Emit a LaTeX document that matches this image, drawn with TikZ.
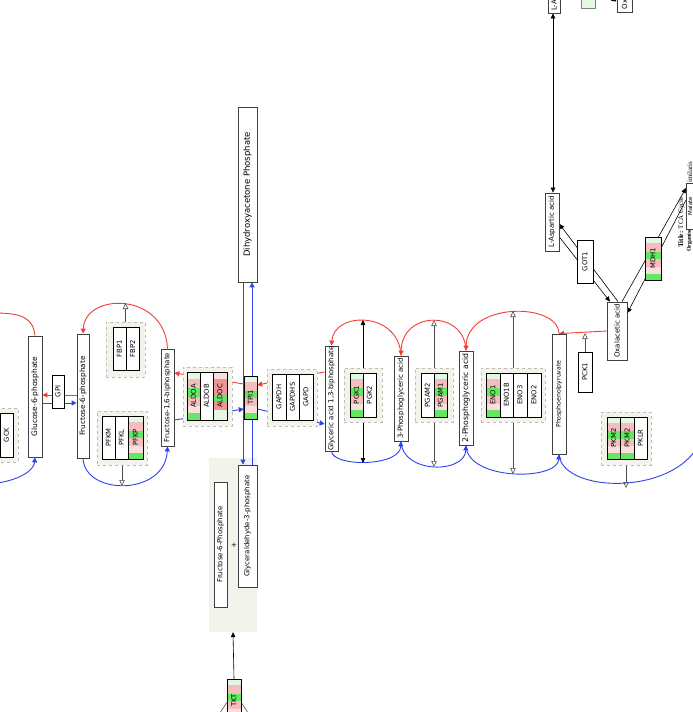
\documentclass[tikz,border=0pt]{standalone}
\usepackage{graphicx, amsmath, amssymb}
\usepackage{fontspec}
\setmainfont{DejaVu Sans}
\newfontfamily\legendfont{Liberation Serif}
\usetikzlibrary{arrows.meta, calc}
\pgfdeclarelayer{background}
\pgfsetlayers{background,main}

\definecolor{glyco}{RGB}{45,65,240}
\definecolor{gluco}{RGB}{245,60,50}
\definecolor{grpfill}{RGB}{243,243,236}
\definecolor{grpline}{RGB}{190,190,180}
\definecolor{lgreen}{RGB}{226,248,226}
\definecolor{mgreen}{RGB}{100,232,100}
\definecolor{lpink}{RGB}{250,222,222}
\definecolor{mpink}{RGB}{245,190,190}
\definecolor{mred}{RGB}{238,150,150}

\begin{document}
\begin{tikzpicture}[x=1pt, y=-1pt,
    metab/.style={draw=black!75, line width=0.8pt, fill=white, inner sep=0pt, font=\fontsize{7}{8}\selectfont},
    gene/.style={draw=black, line width=0.5pt, fill=white, inner sep=0pt, minimum width=13.5, minimum height=44, font=\fontsize{6.8}{7}\selectfont},
    bands/.style={path picture={
        \foreach \a/\b/\c in {#1} {
          \fill[\c] ($(path picture bounding box.north west)!\a!(path picture bounding box.south west)$) rectangle ($(path picture bounding box.north east)!\b!(path picture bounding box.south east)$);
        }}},
    expr/.style={gene, bands={0/0.14/lgreen, 0.14/0.34/mpink, 0.34/0.52/mgreen, 0.52/0.7/mpink, 0.7/0.85/lpink, 0.85/1/mgreen}},
    exprred/.style={gene, bands={0/0.15/lpink, 0.15/0.48/mred, 0.48/0.62/mgreen, 0.62/0.8/mred, 0.8/1/lgreen}},
    grp/.style={draw=grpline, dashed, fill=grpfill, line width=0.6pt, inner sep=0pt},
    legendtxt/.style={inner sep=0pt, font=\legendfont\fontsize{7}{8}\selectfont},
    fwd/.style={glyco, line width=0.9pt, -{Triangle[length=5pt,width=5pt]}},
    rev/.style={gluco, line width=0.9pt, -{Triangle[length=5pt,width=5pt]}},
    cat/.style={black!70, line width=0.6pt, -{Triangle[open,length=6pt,width=5.5pt]}},
    conv/.style={black, line width=0.6pt, -{Triangle[length=5pt,width=4.5pt]}}
  ]
  \useasboundingbox (0,0) rectangle (693,712);

  % Draw nodes
  \node[grp, minimum width=23, minimum height=54] (gckgrp) at (6.5,435) {};
  \node[gene, minimum width=13] (gck) at (6.5,435) {\rotatebox{90}{GCK}};
  \node[metab, minimum width=14, minimum height=121, font=\fontsize{7.5}{8}\selectfont] (g6p) at (35,396.5) {\rotatebox{90}{Glucose-6-phosphate}};
  \node[gene, minimum width=12, minimum height=33] (gpi) at (58,391.5) {\rotatebox{90}{GPI}};
  \node[metab, minimum width=12, minimum height=124, font=\fontsize{7.3}{8}\selectfont] (f6p) at (83,396) {\rotatebox{90}{Fructose-6-phosphate}};

  \node[grp, minimum width=39, minimum height=55] (fbpgrp) at (125.5,349.5) {};
  \node[gene, minimum width=13, minimum height=43] (fbp1) at (119.5,348.5) {\rotatebox{90}{FBP1}};
  \node[gene, minimum width=13, minimum height=43] (fbp2) at (132.5,348.5) {\rotatebox{90}{FBP2}};
  \node[grp, minimum width=50, minimum height=54] (pfkgrp) at (122,438) {};
  \node[gene, minimum width=13, minimum height=43] (pfkm) at (108.5,437.5) {\rotatebox{90}{PFKM}};
  \node[gene, minimum width=13, minimum height=43] (pfkl) at (121.5,437.5) {\rotatebox{90}{PFKL}};
  \node[expr, minimum width=15, minimum height=43] (pfkp) at (135.5,437.5) {\rotatebox{90}{PFKP}};

  \node[metab, minimum width=13, minimum height=97] (f16bp) at (167.5,397.5) {\rotatebox{90}{Fructose-1,6-biphosphate}};
  \node[grp, minimum width=49, minimum height=59] (aldogrp) at (207.5,396.5) {};
  \node[expr, minimum width=13, minimum height=48] (aldoa) at (193.5,396) {\rotatebox{90}{ALDOA}};
  \node[gene, minimum width=13, minimum height=48] (aldob) at (206.5,396) {\rotatebox{90}{ALDOB}};
  \node[exprred, minimum width=14, minimum height=48] (aldoc) at (220,396) {\rotatebox{90}{ALDOC}};

  \node[expr, minimum width=13, minimum height=43] (tpi1) at (250.5,397.5) {\rotatebox{90}{TPI1}};
  \node[metab, minimum width=19, minimum height=175, font=\fontsize{8.5}{9}\selectfont] (dhap) at (247.5,194.5) {\rotatebox{90}{Dihydroxyacetone Phosphate}};
  \node[metab, minimum width=19, minimum height=122] (gap) at (247.5,526) {\rotatebox{90}{Glyceraldehyde-3-phosphate}};
  \node[metab, minimum width=13, minimum height=125] (f6pb) at (220.5,544.5) {\rotatebox{90}{Fructose-6-Phosphate}};
  \node[inner sep=0pt, font=\fontsize{7}{8}\selectfont] (plus) at (234,545) {+};
  \node[expr, minimum width=14, minimum height=43] (tkt) at (234,700.5) {\rotatebox{90}{TKT}};

  \node[grp, minimum width=50, minimum height=57] (gapdhgrp) at (292,397.5) {};
  \node[gene, minimum height=46] (gapdh) at (279,397) {\rotatebox{90}{GAPDH}};
  \node[gene, minimum height=46] (gapdhs) at (292.5,397) {\rotatebox{90}{GAPDHS}};
  \node[gene, minimum height=46] (gapd) at (306,397) {\rotatebox{90}{GAPD}};

  \node[metab, minimum width=13, minimum height=105] (bpg) at (331.5,398.5) {\rotatebox{90}{Glyceric acid 1,3-biphosphate}};
  \node[grp, minimum width=38, minimum height=54] (pgkgrp) at (363,395) {};
  \node[expr, minimum width=13] (pgk1) at (356.5,395) {\rotatebox{90}{PGK1}};
  \node[gene, minimum width=13] (pgk2) at (369.5,395) {\rotatebox{90}{PGK2}};

  \node[metab, minimum width=14, minimum height=85] (pg3) at (401,398.5) {\rotatebox{90}{3-Phosphoglyceric acid}};
  \node[grp, minimum width=38, minimum height=54] (pgamgrp) at (434,395) {};
  \node[gene, minimum width=13] (pgam2) at (427.5,395) {\rotatebox{90}{PGAM2}};
  \node[expr, minimum width=13] (pgam1) at (440.5,395) {\rotatebox{90}{PGAM1}};

  \node[metab, minimum width=14, minimum height=94, font=\fontsize{7.7}{8}\selectfont] (pg2) at (466,398) {\rotatebox{90}{2-Phosphoglyceric acid}};
  \node[grp, minimum width=64, minimum height=54] (enogrp) at (513,395) {};
  \node[expr] (eno1) at (493,395) {\rotatebox{90}{ENO1}};
  \node[gene] (eno1b) at (506.5,395) {\rotatebox{90}{ENO1B}};
  \node[gene] (eno3) at (520,395) {\rotatebox{90}{ENO3}};
  \node[gene] (eno2) at (534,395) {\rotatebox{90}{ENO2}};

  \node[metab, minimum width=14, minimum height=120, font=\fontsize{6.2}{7}\selectfont] (pep) at (559,394) {\rotatebox{90}{Phosphoenolpyruvate}};
  \node[grp, minimum width=50, minimum height=53] (pkgrp) at (626,438.5) {};
  \node[expr, minimum height=42] (pkm2a) at (613.5,438) {\rotatebox{90}{PKM2}};
  \node[expr, minimum height=42] (pkm2b) at (627,438) {\rotatebox{90}{PKM2}};
  \node[gene, minimum height=42] (pklr) at (640.5,438) {\rotatebox{90}{PKLR}};
  \node[gene, minimum width=14, minimum height=40] (pck1) at (585,372) {\rotatebox{90}{PCK1}};

  \node[metab, minimum width=20, minimum height=58] (oaa) at (617,331) {\rotatebox{90}{Oxalacetic acid}};
  \node[metab, minimum width=14, minimum height=58] (asp) at (552,222) {\rotatebox{90}{L-Aspartic acid}};
  \node[gene, minimum width=16, minimum height=43] (got1) at (585,261.5) {\rotatebox{90}{GOT1}};
  \node[expr, minimum width=16, minimum height=43] (mdh1) at (653,258.5) {\rotatebox{90}{MDH1}};

  % Labels
  \node[legendtxt, anchor=south] (title) at (681.5,248) {\rotatebox{90}{\textbf{Title:} TCA Cycle}};
  \node[legendtxt, anchor=south east, font=\legendfont\fontsize{6}{7}\selectfont] (organism) at (692.5,252) {\rotatebox{90}{\textbf{Organism:}}};
  \node[legendtxt, anchor=south east] (species) at (692.5,183) {\rotatebox{90}{imilaris}};
  \node[metab, anchor=west, inner sep=1.5pt, minimum height=46, font=\fontsize{5.5}{6}\selectfont] (malate) at (686,206) {\rotatebox{90}{Malate}\hspace{5pt}};
  \node[metab, minimum width=12, minimum height=15] (asptop) at (554,5.5) {\rotatebox{90}{L-A}};
  \node[metab, minimum width=15, minimum height=15] (oxtop) at (624.5,4.5) {\rotatebox{90}{Ox}};
  \node[draw=black!50, fill=lgreen, inner sep=0pt, minimum width=14, minimum height=16] (legendsq) at (588,0) {};

  % Draw connections
  \begin{pgfonlayer}{background}
    \clip (0,0) rectangle (693,712);
    \node[fill=grpfill, inner sep=0pt, minimum width=48, minimum height=174] (bigbg) at (233,545) {};
    \coordinate (gluc) at (-10,313);
    \coordinate (glucb) at (-10,484);
    \coordinate (pyr) at (705,420);

    % glycolysis
    \draw[fwd] (glucb) .. controls (20,481) and (34,470) .. (g6p.south);
    \draw[fwd] ([yshift=-6.5pt]g6p.east) -- ([yshift=-7pt]f6p.west);
    \draw[fwd] (f6p.south) .. controls (85,496) and (165,496) .. (f16bp.south);
    \draw[fwd] ([yshift=-22.5pt]f16bp.east) -- ([yshift=-11.5pt]tpi1.west);
    \draw[fwd] ([xshift=-4.5pt]dhap.south) -- ([xshift=-4.5pt]gap.north);
    \draw[fwd] ([xshift=4.5pt]gap.north) -- ([xshift=4.5pt]dhap.south);
    \draw[fwd] ([yshift=-11.5pt]tpi1.east) -- ([yshift=-25.5pt]bpg.west);
    \draw[fwd] (bpg.south) .. controls (333,467) and (400,467) .. (pg3.south);
    \draw[fwd] (pg3.south) .. controls (402,474) and (465,474) .. (pg2.south);
    \draw[fwd] (pg2.south) .. controls (467,481) and (558,481) .. (pep.south);
    \draw[fwd] (pep.south) .. controls (562,497) and (698,497) .. (pyr);

    % gluconeogenesis
    \draw[rev] (g6p.north) .. controls (33,318) and (22,313) .. (gluc);
    \draw[rev] ([yshift=1pt]f6p.west) -- ([yshift=1.5pt]g6p.east);
    \draw[rev] (f16bp.north) .. controls (165,292) and (85,292) .. (f6p.north);
    \draw[rev] ([yshift=13.5pt]tpi1.west) -- ([yshift=24.5pt]f16bp.east);
    \draw[rev] ([yshift=26.5pt]bpg.west) -- ([yshift=12.5pt]tpi1.east);
    \draw[rev] (pg3.north) .. controls (399,311) and (334,311) .. (bpg.north);
    \draw[rev] (pg2.north) .. controls (465,310) and (402,310) .. (pg3.north);
    \draw[rev] (pep.north) .. controls (558,302) and (467,302) .. (pg2.north);
    \draw[rev] (oaa.west) -- (pep.north);

    % catalysis
    \coordinate (fbptip) at (125.5,303);
    \coordinate (pfktip) at (122,486);
    \coordinate (pgktop) at (363,320);
    \coordinate (pgkbot) at (363,463);
    \coordinate (pgamtop) at (434,320);
    \coordinate (pgambot) at (434,467);
    \coordinate (enotop) at (513,311);
    \coordinate (enobot) at (513,474);
    \coordinate (pktip) at (626,488);
    \coordinate (pcktip) at (585,333);
    \draw[cat] (fbpgrp.north) -- (fbptip);
    \draw[cat] (pfkgrp.south) -- (pfktip);
    \draw[conv, {Triangle[length=5pt,width=4.5pt]}-{Triangle[length=5pt,width=4.5pt]}] (pgkbot) -- (pgktop);
    \draw[cat, {Triangle[open,length=6pt,width=5.5pt]}-{Triangle[open,length=6pt,width=5.5pt]}] (pgambot) -- (pgamtop);
    \draw[cat, {Triangle[open,length=6pt,width=5.5pt]}-{Triangle[open,length=6pt,width=5.5pt]}] (enobot) -- (enotop);
    \draw[cat] (pkgrp.south) -- (pktip);
    \draw[cat] (pck1.north) -- (pcktip);
    \draw[black!70, line width=0.5pt] (aldob.south) -- ++(0,4) -- ++(3,-2);
    \draw[black!70, line width=0.5pt] ([xshift=-4pt]gapdhs.south) -- ++(3,5);

    % aspartate and malate
    \draw[conv, {Triangle[length=5pt,width=4.5pt]}-{Triangle[length=5pt,width=4.5pt]}] ([xshift=1pt]asp.north) -- ([xshift=-1pt]asptop.south);
    \draw[conv] ([xshift=1pt]oaa.north) -- ([yshift=-2pt]asp.east);
    \draw[conv] ([yshift=-15pt]asp.east) -- ([xshift=-7pt]oaa.north);
    \draw[conv] ([xshift=5pt]oaa.north) -- ([yshift=18pt]malate.west);
    \draw[conv] ([yshift=6pt]malate.west) -- ([yshift=18pt]oaa.east);
    \draw[conv] (603,-7) -- ([yshift=3pt]oxtop.west);

    % transketolase
    \draw[conv] (tkt.north) -- (bigbg.south);
    \draw[black!70, line width=0.6pt] ([yshift=-2pt]tkt.west) -- (214,722);
    \draw[black!70, line width=0.6pt] ([yshift=-2pt]tkt.east) -- (254,722);
  \end{pgfonlayer}
\end{tikzpicture}
\end{document}
